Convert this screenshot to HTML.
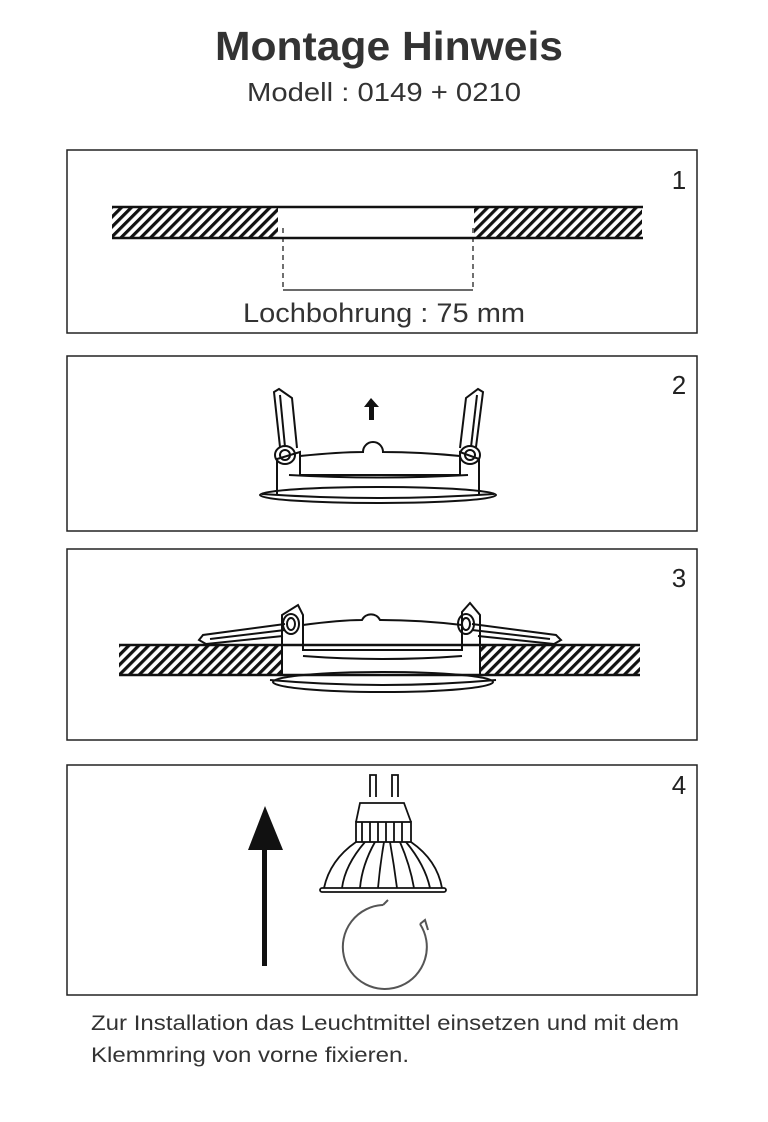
<!DOCTYPE html>
<html><head><meta charset="utf-8"><style>
body{margin:0;background:#fff;}
svg{display:block;font-family:"Liberation Sans","DejaVu Sans",sans-serif;}
</style></head><body>
<svg width="768" height="1122" viewBox="0 0 768 1122" xmlns="http://www.w3.org/2000/svg">
<defs>
<pattern id="h" patternUnits="userSpaceOnUse" width="7" height="7" patternTransform="rotate(45)">
<rect width="7" height="7" fill="#fff"/><rect width="3.2" height="7" fill="#111"/>
</pattern>
</defs>
<text x="215" y="60" textLength="348" lengthAdjust="spacingAndGlyphs" font-size="41" font-weight="bold" fill="#333">Montage Hinweis</text>
<text x="247" y="101" textLength="274" lengthAdjust="spacingAndGlyphs" font-size="26" fill="#333">Modell : 0149 + 0210</text>

<g fill="none" stroke="#222" stroke-width="1.5">
<rect x="67" y="150" width="630" height="183"/>
<rect x="67" y="356" width="630" height="175"/>
<rect x="67" y="549" width="630" height="191"/>
<rect x="67" y="765" width="630" height="230"/>
</g>
<g font-size="26" fill="#222" text-anchor="middle">
<text x="679" y="189">1</text><text x="679" y="394">2</text>
<text x="679" y="587">3</text><text x="679" y="794">4</text>
</g>

<!-- Panel 1 -->
<rect x="112" y="208" width="166" height="29" fill="url(#h)"/>
<rect x="474" y="208" width="168" height="29" fill="url(#h)"/>
<line x1="112" y1="207" x2="643" y2="207" stroke="#111" stroke-width="2.5"/>
<line x1="112" y1="238" x2="643" y2="238" stroke="#111" stroke-width="2.5"/>
<g stroke="#111" stroke-width="1.2">
<line x1="283" y1="228" x2="283" y2="290" stroke-dasharray="5,4"/>
<line x1="473" y1="228" x2="473" y2="290" stroke-dasharray="5,4"/>
<line x1="283" y1="290" x2="473" y2="290"/>
</g>
<text x="243" y="322" textLength="282" lengthAdjust="spacingAndGlyphs" font-size="27" fill="#333">Lochbohrung : 75 mm</text>

<!-- Panel 2 -->
<g fill="none" stroke="#111" stroke-width="2">
<ellipse cx="378" cy="495" rx="118" ry="8"/>
<path d="M262 494 Q378 502 494 494"/>
<path d="M277 494 L277 459 L300 452 L300 475 L460 475 L460 452 L479 459 L479 494"/>
<path d="M300 456 Q340 452 363 452 A10 10 0 0 1 383 452 Q420 452 460 456"/>
<path d="M289 475 Q378 480 468 475"/>
<path d="M280 447 L274 392 L279 389 L292 398 L297 448"/>
<path d="M285 447 L280 395"/>
<path d="M476 447 L483 392 L478 389 L466 398 L460 448"/>
<path d="M471 447 L477 395"/>
<ellipse cx="285" cy="455" rx="10" ry="9"/><ellipse cx="285" cy="455" rx="5" ry="5"/>
<ellipse cx="470" cy="455" rx="10" ry="9"/><ellipse cx="470" cy="455" rx="5" ry="5"/>
</g>
<path d="M371 398 L364 407 L369 407 L369 420 L374 420 L374 407 L379 407 Z" fill="#111"/>

<!-- Panel 3 -->
<rect x="119" y="646" width="164" height="29" fill="url(#h)"/>
<rect x="480" y="646" width="160" height="29" fill="url(#h)"/>
<line x1="119" y1="645" x2="640" y2="645" stroke="#111" stroke-width="2.5"/>
<line x1="119" y1="675" x2="640" y2="675" stroke="#111" stroke-width="2.5"/>
<g fill="none" stroke="#111" stroke-width="2">
<ellipse cx="383" cy="682" rx="110" ry="10"/>
<path d="M270 680 Q383 690 496 680"/>
<path d="M282 675 L282 615 L298 605 L303 615 L303 650 L462 650 L462 612 L470 603 L480 615 L480 675"/>
<path d="M303 625 Q340 620 362 620 A10 10 0 0 1 380 620 Q420 620 462 625"/>
<path d="M303 656 Q383 662 462 656"/>
<path d="M285 624 L203 635 L199 640 L206 644 L283 636"/>
<path d="M285 630 L210 639"/>
<path d="M472 624 L556 635 L561 640 L554 644 L478 636"/>
<path d="M472 630 L550 639"/>
<ellipse cx="291" cy="624" rx="8" ry="10"/><ellipse cx="291" cy="624" rx="4" ry="6"/>
<ellipse cx="466" cy="624" rx="8" ry="10"/><ellipse cx="466" cy="624" rx="4" ry="6"/>
</g>

<!-- Panel 4 -->
<rect x="262" y="848" width="5" height="118" fill="#111"/>
<path d="M248 850 L265 806 L283 850 Z" fill="#111"/>
<g fill="none" stroke="#111" stroke-width="1.8">
<path d="M370 797 V775 H376 V797 M392 797 V775 H398 V797"/>
<path d="M356 822 L360 803 L404 803 L411 822"/>
<rect x="356" y="822" width="55" height="20"/>
<path d="M362 822 V842 M370 822 V842 M378 822 V842 M386 822 V842 M394 822 V842 M402 822 V842"/>
<path d="M356 842 Q330 860 324 888 M411 842 Q437 860 442 888"/>
<path d="M365 842 Q345 865 342 888 M375 842 Q362 865 360 888 M384 842 Q380 865 378 888 M390 842 Q394 865 397 888 M400 842 Q410 865 414 888 M406 842 Q425 865 430 888"/>
<rect x="320" y="888" width="126" height="4" rx="2"/>
</g>
<g fill="none" stroke="#555" stroke-width="2">
<path d="M383 905 A42 42 0 1 0 420 924"/>
<path d="M383 905 L388 900 M420 924 L425 920 L428 930"/>
</g>

<g font-size="21" fill="#333">
<text x="91" y="1030" textLength="588" lengthAdjust="spacingAndGlyphs">Zur Installation das Leuchtmittel einsetzen und mit dem</text>
<text x="91" y="1062" textLength="318" lengthAdjust="spacingAndGlyphs">Klemmring von vorne fixieren.</text>
</g>
</svg>
</body></html>
